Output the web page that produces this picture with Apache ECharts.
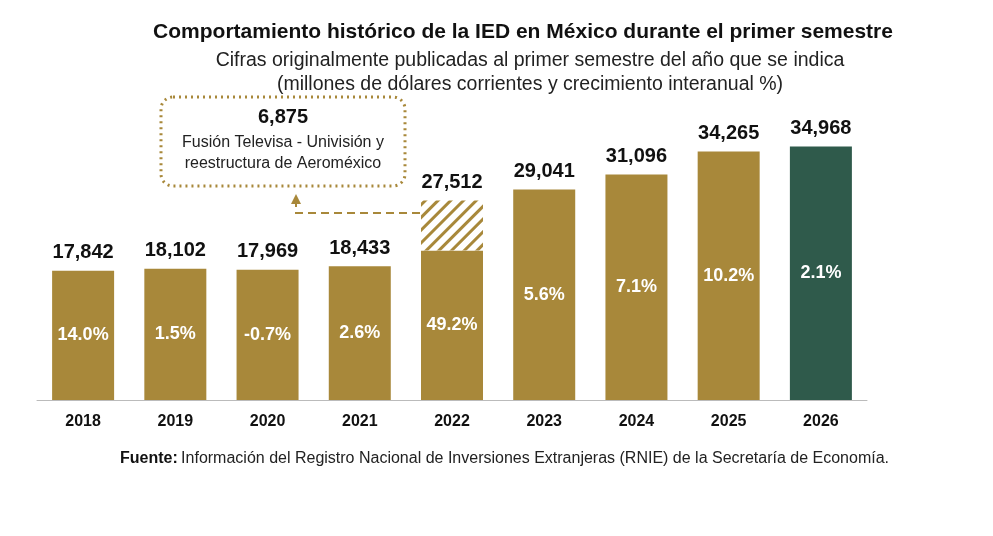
<!DOCTYPE html>
<html><head><meta charset="utf-8">
<script src="https://cdn.jsdelivr.net/npm/echarts@6/dist/echarts.min.js"></script>
<style>html,body{margin:0;background:#fff}#c{width:993px;height:536px}</style></head>
<body><div id="c"></div>
<script>
const years=['2018','2019','2020','2021','2022','2023','2024','2025','2026'];
const totals=[17842,18102,17969,18433,27512,29041,31096,34265,34968];
const growth=['14.0%','1.5%','-0.7%','2.6%','49.2%','5.6%','7.1%','10.2%','2.1%'];
const extraordinary=[0,0,0,0,6875,0,0,0,0];
const gold='#A8883A', green='#2F5A4B';
const base=totals.map((v,i)=>v-extraordinary[i]);
const chart=echarts.init(document.getElementById('c'));
const F='Liberation Sans, Arial, sans-serif';
chart.setOption({
  animation:false,
  title:[
    {text:'Comportamiento histórico de la IED en México durante el primer semestre',left:518,top:17,textAlign:'center',
     textStyle:{fontFamily:F,fontSize:21,fontWeight:'bold',color:'#111'}},
    {text:'Cifras originalmente publicadas al primer semestre del año que se indica\n(millones de dólares corrientes y crecimiento interanual %)',left:525,top:44,textAlign:'center',
     textStyle:{fontFamily:F,fontSize:19.5,fontWeight:'normal',color:'#222',lineHeight:24}}
  ],
  grid:{left:37,right:126,top:110,bottom:136},
  xAxis:{type:'category',data:years,axisTick:{show:false},
    axisLine:{lineStyle:{color:'#bbb'}},
    axisLabel:{fontFamily:F,fontSize:16,fontWeight:'bold',color:'#111',margin:14}},
  yAxis:{type:'value',min:0,max:40000,show:false,splitLine:{show:false}},
  series:[
    {type:'bar',stack:'a',barWidth:62,data:base.map((v,i)=>({value:v,itemStyle:{color:i===8?green:gold}})),
     label:{show:true,position:'inside',formatter:p=>growth[p.dataIndex],color:'#fff',fontFamily:F,fontSize:18,fontWeight:'bold'}},
    {type:'bar',stack:'a',barWidth:62,data:extraordinary,
     itemStyle:{color:'#fff',decal:{symbol:'rect',dashArrayX:[1,0],dashArrayY:[3,6],rotation:-Math.PI/4,color:gold,symbolSize:1}}},
    {type:'bar',stack:'a',barWidth:62,data:years.map(()=>0),
     label:{show:true,position:'top',distance:8,formatter:p=>totals[p.dataIndex].toLocaleString('en-US'),color:'#111',fontFamily:F,fontSize:20,fontWeight:'bold'}}
  ],
  graphic:[
    {type:'rect',shape:{x:161,y:97,width:244,height:89,r:12},style:{fill:'none',stroke:gold,lineWidth:3,lineDash:[2,4]}},
    {type:'text',x:283,y:107,style:{text:'6,875',textAlign:'center',fontFamily:F,fontSize:20,fontWeight:'bold',fill:'#111'}},
    {type:'text',x:283,y:132,style:{text:'Fusión Televisa - Univisión y\nreestructura de Aeroméxico',textAlign:'center',fontFamily:F,fontSize:16,lineHeight:21,fill:'#222'}},
    {type:'polyline',shape:{points:[[420,213],[296,213],[296,203]]},style:{stroke:gold,lineWidth:2,lineDash:[8,5],fill:'none'}},
    {type:'polygon',shape:{points:[[291,204],[301,204],[296,194]]},style:{fill:gold}},
    {type:'text',x:120,y:451,style:{rich:{b:{fontFamily:F,fontSize:16,fontWeight:'bold',fill:'#111'},n:{fontFamily:F,fontSize:16,fill:'#222'}},
      text:'{b|Fuente:} {n|Información del Registro Nacional de Inversiones Extranjeras (RNIE) de la Secretaría de Economía.}'}}
  ]
});
</script></body></html>
